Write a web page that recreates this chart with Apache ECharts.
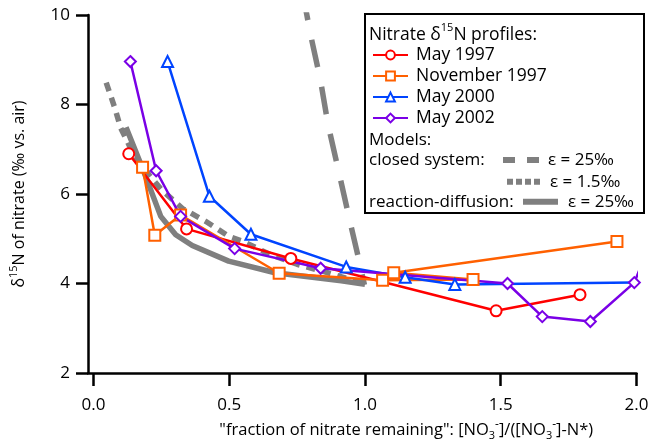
<!DOCTYPE html>
<html>
<head>
<meta charset="utf-8">
<script src="https://cdn.jsdelivr.net/npm/echarts@6/dist/echarts.min.js"></script>
<style>
html,body{margin:0;padding:0;background:#fff;}
#chart{width:652px;height:446px;}
</style>
</head>
<body>
<div id="chart"></div>
<script>
// ---- data ----
const xTickValues = [0, 0.5, 1, 1.5, 2];
const yTickValues = [2, 4, 6, 8, 10];

const may1997X = [0.130, 0.343, 0.727, 1.483, 1.792];
const may1997Y = [6.90, 5.22, 4.56, 3.39, 3.75];

const nov1997X = [0.181, 0.226, 0.321, 0.684, 1.065, 1.398, 1.106, 1.928];
const nov1997Y = [6.60, 5.08, 5.53, 4.23, 4.07, 4.09, 4.24, 4.94];

const may2000X = [0.273, 0.427, 0.580, 0.931, 1.148, 1.331, 1.990];
const may2000Y = [8.96, 5.95, 5.10, 4.37, 4.14, 3.98, 4.02];

const may2002X = [0.136, 0.231, 0.321, 0.520, 0.837, 1.525, 1.653, 1.830, 1.992, 2.05];
const may2002Y = [8.96, 6.52, 5.50, 4.78, 4.34, 4.00, 3.26, 3.15, 4.02, 4.90];

const closed25X = [0.770, 0.786, 0.800, 0.836, 0.864, 0.907, 0.950, 0.975, 0.998];
const closed25Y = [10.5, 10.0, 9.55, 8.55, 7.55, 6.40, 5.25, 4.60, 3.97];

const closed15X = [0.047, 0.080, 0.100, 0.150, 0.206, 0.250, 0.327, 0.413, 0.500, 0.547, 0.650, 0.750, 0.852, 0.950, 1.000];
const closed15Y = [8.49, 7.90, 7.48, 6.86, 6.42, 6.10, 5.68, 5.39, 5.05, 4.95, 4.65, 4.43, 4.26, 4.08, 4.00];

const reacDiffX = [0.120, 0.181, 0.248, 0.303, 0.364, 0.498, 0.669, 0.913, 1.000];
const reacDiffY = [7.49, 6.57, 5.50, 5.09, 4.85, 4.50, 4.24, 4.06, 3.98];

const seriesNames = ['May 1997', 'November 1997', 'May 2000', 'May 2002'];
// ---------------------------------------

const FONT = "'Open Sans', 'DejaVu Sans', sans-serif";
const pairs = (xs, ys) => xs.map((x, i) => [x, ys[i]]);
const GRAY = '#7f7f7f';

function dataSeries(name, xs, ys, color, symbol, hideLast) {
  const d = pairs(xs, ys).map((p, i) => (hideLast && i === xs.length - 1) ? { value: p, symbol: 'none' } : p);
  return {
    name, type: 'line', data: d, clip: true, z: 3,
    symbol, symbolSize: 11, showSymbol: true,
    lineStyle: { color, width: 2.5 },
    itemStyle: { color, borderColor: color, borderWidth: 2 },
    emphasis: { disabled: true }
  };
}
function modelSeries(name, xs, ys, dash, width) {
  return {
    name, type: 'line', data: pairs(xs, ys), clip: true, z: 2,
    symbol: 'none', smooth: false,
    lineStyle: { color: GRAY, width, type: dash, cap: 'butt' },
    emphasis: { disabled: true }
  };
}

const txt = (t, x, y) => ({
  type: 'text', x, y, z: 10,
  style: { text: t, fill: '#000', fontSize: 17, fontFamily: FONT, verticalAlign: 'middle' }
});
const hline = (x1, x2, y, dash) => ({
  type: 'line', z: 10,
  shape: { x1, y1: y, x2, y2: y },
  style: { stroke: GRAY, lineWidth: 6, lineDash: dash }
});

const chart = echarts.init(document.getElementById('chart'), null, { renderer: 'canvas' });
chart.setOption({
  animation: false,
  backgroundColor: '#fff',
  grid: { left: 85, right: 15.5, top: 15, bottom: 71, containLabel: false },
  xAxis: {
    type: 'value', min: -0.02, max: 2,
    name: '"fraction of nitrate remaining": [NO{sub|3}{sup|-}]/([NO{sub|3}{sup|-}]-N*)',
    nameLocation: 'middle', nameGap: 46,
    nameTextStyle: {
      fontFamily: FONT, fontSize: 16.5, color: '#000', lineHeight: 22, padding: [0, 0, 0, 88],
      rich: {
        sub: { fontFamily: FONT, fontSize: 11, color: '#000', verticalAlign: 'bottom', lineHeight: 11 },
        sup: { fontFamily: FONT, fontSize: 12, color: '#000', verticalAlign: 'top', lineHeight: 11 }
      }
    },
    axisLine: { show: true, onZero: false, lineStyle: { color: '#000', width: 2.5 } },
    axisTick: { show: true, inside: false, length: 13, customValues: xTickValues, lineStyle: { color: '#000', width: 2.5 } },
    axisLabel: { customValues: xTickValues, formatter: v => v.toFixed(1), fontFamily: FONT, fontSize: 17, color: '#000', margin: 24 },
    splitLine: { show: false }
  },
  yAxis: {
    type: 'value', min: 2, max: 10, interval: 2,
    name: 'δ{sup|15}N of nitrate (‰ vs. air)',
    nameLocation: 'middle', nameGap: 58,
    nameTextStyle: {
      fontFamily: FONT, fontSize: 16, color: '#000', lineHeight: 22,
      rich: { sup: { fontFamily: FONT, fontSize: 11, color: '#000', verticalAlign: 'top', lineHeight: 11 } }
    },
    axisLine: { show: true, onZero: false, lineStyle: { color: '#000', width: 2.5 } },
    axisTick: { show: true, inside: false, length: 12, lineStyle: { color: '#000', width: 2.5 } },
    axisLabel: { fontFamily: FONT, fontSize: 17, color: '#000', margin: 18 },
    splitLine: { show: false }
  },
  legend: {
    data: seriesNames, orient: 'vertical', left: 372, top: 44.5, padding: 0,
    itemWidth: 35, itemHeight: 11, itemGap: 0, z: 10,
    textStyle: { fontFamily: FONT, fontSize: 17.5, color: '#000', lineHeight: 21, padding: [0, 0, 0, 3] },
    selectedMode: false
  },
  graphic: [
    { type: 'rect', z: 5, shape: { x: 365, y: 14, width: 279, height: 199 }, style: { fill: '#fff', stroke: '#000', lineWidth: 2 } },
    {
      type: 'text', x: 369, y: 33, z: 10,
      style: {
        text: '{a|Nitrate δ}{s|15}{a|N profiles:}', verticalAlign: 'middle',
        rich: {
          a: { fontFamily: FONT, fontSize: 17.5, fill: '#000', color: '#000', lineHeight: 22, verticalAlign: 'bottom' },
          s: { fontFamily: FONT, fontSize: 11, fill: '#000', color: '#000', lineHeight: 11, verticalAlign: 'top' }
        }
      }
    },
    txt('Models:', 369, 140),
    txt('closed system:', 369, 160),
    hline(503, 539, 160, [12, 12]),
    txt('ε = 25‰', 548, 160),
    hline(507, 540, 181.7, [6, 3]),
    txt('ε = 1.5‰', 550, 181.7),
    txt('reaction-diffusion:', 369, 201.7),
    hline(523, 558, 201.7, null),
    txt('ε = 25‰', 568, 201.7)
  ],
  series: [
    modelSeries('closed system ε = 25‰', closed25X, closed25Y, [28, 20], 5.5),
    modelSeries('closed system ε = 1.5‰', closed15X, closed15Y, [9, 7], 5.5),
    modelSeries('reaction-diffusion ε = 25‰', reacDiffX, reacDiffY, 'solid', 5.5),
    dataSeries(seriesNames[0], may1997X, may1997Y, '#ff0000', 'emptyCircle'),
    dataSeries(seriesNames[1], nov1997X, nov1997Y, '#ff6000', 'emptyRect'),
    dataSeries(seriesNames[2], may2000X, may2000Y, '#0044ff', 'emptyTriangle', true),
    dataSeries(seriesNames[3], may2002X, may2002Y, '#7a00e6', 'emptyDiamond')
  ]
});
</script>
</body>
</html>
